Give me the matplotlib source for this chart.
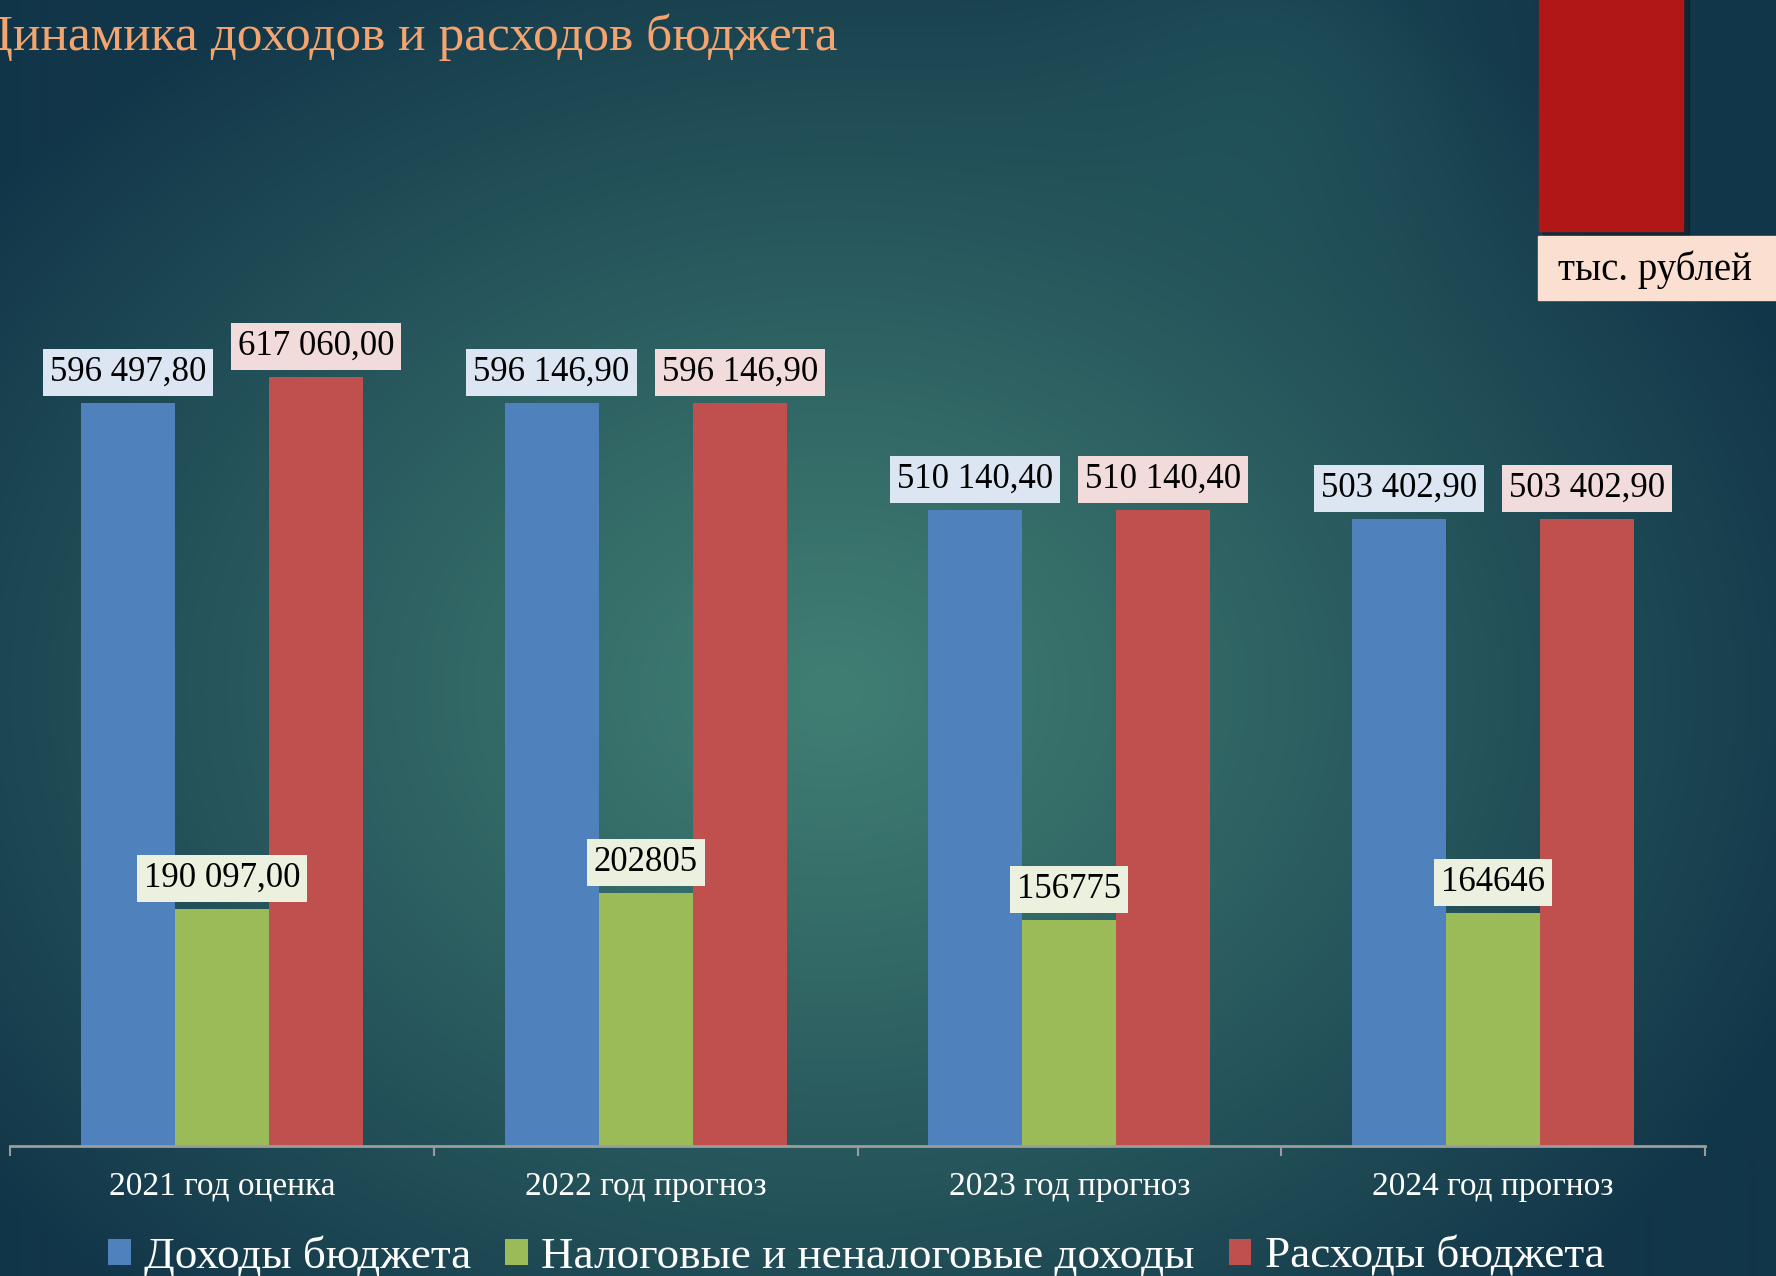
"""
# Budget income / expense dynamics chart (recreated)
"""

### Packages
import numpy as np
import matplotlib
matplotlib.use("Agg")
import matplotlib.pyplot as plt
from matplotlib.patches import Rectangle

### Data
categories = ["2021 год оценка", "2022 год прогноз", "2023 год прогноз", "2024 год прогноз"]
series_names = ["Доходы бюджета", "Налоговые и неналоговые доходы", "Расходы бюджета"]
income = [596497.80, 596146.90, 510140.40, 503402.90]
# bar heights as drawn in the picture (the 2023/2024 bars are taller than their labels say)
tax_income = [190097.00, 202805, 181400, 187000]
expenses = [617060.00, 596146.90, 510140.40, 503402.90]
income_labels = ["596 497,80", "596 146,90", "510 140,40", "503 402,90"]
tax_labels = ["190 097,00", "202805", "156775", "164646"]
expense_labels = ["617 060,00", "596 146,90", "510 140,40", "503 402,90"]

title = "Динамика доходов и расходов бюджета"
unit_text = "тыс. рублей"

### Styles
W, H = 1776, 1276
FONT = "Liberation Serif"
bar_colors = ["#4F81BD", "#9BBB59", "#C0504D"]
box_colors = ["#DCE6F2", "#EBF1DE", "#F2DCDB"]
plt.rcParams["font.family"] = [FONT, "DejaVu Serif"]

fig = plt.figure(figsize=(W / 100, H / 100), dpi=100)

# Background: dark teal radial gradient
bg = fig.add_axes([0, 0, 1, 1])
bg.axis("off")
yy, xx = np.mgrid[0:H, 0:W]
d = np.sqrt(((xx - 830) / 1050.0) ** 2 + ((yy - 690) / 820.0) ** 2)
t = np.clip(d, 0, 1) ** 1.1
c0 = np.array([0x40, 0x7E, 0x73]) / 255.0
c1 = np.array([0x12, 0x36, 0x49]) / 255.0
img = c0[None, None, :] * (1 - t[..., None]) + c1[None, None, :] * t[..., None]
spot = np.exp(-((xx - 1280) ** 2 + (yy - 70) ** 2) / (2 * 140.0 ** 2)) * 0.35
c2 = np.array([0x2A, 0x66, 0x66]) / 255.0
img = img * (1 - spot[..., None]) + c2[None, None, :] * spot[..., None]
bg.imshow(img, extent=[0, W, H, 0], aspect="auto", zorder=-10)
bg.set_xlim(0, W)
bg.set_ylim(H, 0)

# Decorative red block and unit label in the top-right corner
bg.add_patch(Rectangle((1543, -5), 146, 240, color="black", alpha=0.25, zorder=1))
bg.add_patch(Rectangle((1539, -5), 144, 236, color="#B01716", zorder=2))
bg.add_patch(Rectangle((1538, 236), 260, 64, color="#FBDFD0", zorder=2))
bg.text(1558, 270, unit_text, fontsize=28, color="black", va="center", ha="left", zorder=3)

# Title
fig.text(-22 / W, 1 - 50 / H, title, fontsize=37, color="#F4A46E", ha="left", va="baseline")

### Chart
ax = fig.add_axes([10 / W, (H - 1146) / H, 1695 / W, 997 / H])
ax.patch.set_alpha(0)
x = np.arange(len(categories))
bw = 0.222
series = [income, tax_income, expenses]
labels = [income_labels, tax_labels, expense_labels]
containers = []
for i, (vals, lbls) in enumerate(zip(series, labels)):
    xs = x + (i - 1) * bw
    bars = ax.bar(xs, vals, bw, color=bar_colors[i], label=series_names[i], zorder=2)
    containers.append(bars)
    for xi, v, s in zip(xs, vals, lbls):
        ax.annotate(s, (xi, v), xytext=(0, 22), textcoords="offset points",
                    ha="center", va="center", fontsize=25, color="black", zorder=5,
                    bbox=dict(boxstyle="square,pad=0.2", fc=box_colors[i], ec="none"))

ax.set_xlim(-0.5, len(categories) - 0.5)
ax.set_ylim(0, 800000)
for s in ["left", "right", "top"]:
    ax.spines[s].set_visible(False)
ax.spines["bottom"].set_color("#9C9C9C")
ax.spines["bottom"].set_linewidth(2)
ax.set_yticks([])
ax.set_xticks(np.arange(len(categories) + 1) - 0.5)
ax.set_xticklabels([])
ax.tick_params(axis="x", which="major", length=7, width=1.5, color="#9C9C9C")
ax.set_xticks(x, minor=True)
ax.set_xticklabels(categories, minor=True, fontsize=24, color="white")
ax.tick_params(axis="x", which="minor", length=0, pad=18)

# Legend
fig.legend(handles=containers, labels=series_names, loc="center left",
           bbox_to_anchor=(108 / W, 1 - 1256 / H), ncol=3, frameon=False,
           fontsize=32.5, labelcolor="white", handlelength=0.5, handleheight=0.5,
           handletextpad=0.3, columnspacing=0.75, borderpad=0, borderaxespad=0)

plt.savefig("out.png", dpi=100)
